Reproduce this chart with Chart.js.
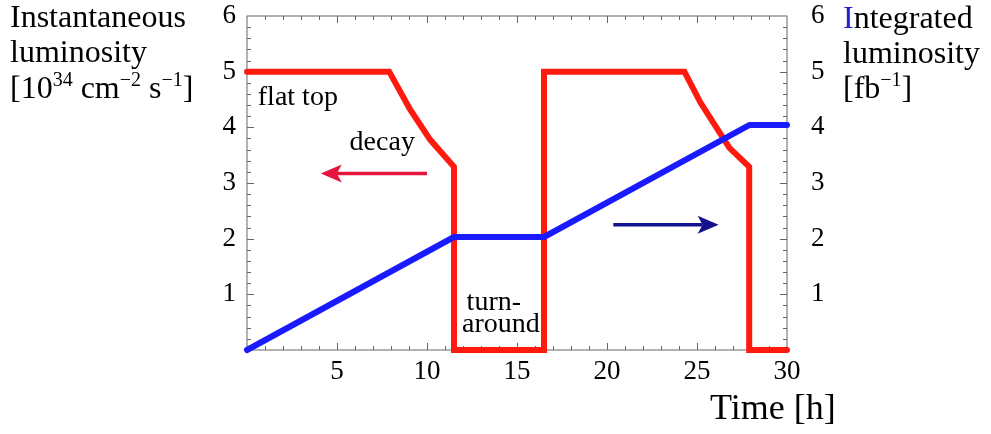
<!DOCTYPE html>
<html>
<head>
<meta charset="utf-8">
<script src="https://cdn.jsdelivr.net/npm/chart.js@4"></script>
<style>
  html, body { margin: 0; padding: 0; background: #fff; }
  #wrap { width: 991px; height: 434px; }
</style>
</head>
<body>
<div id="wrap"><canvas id="lumiChart" width="991" height="434"></canvas></div>
<script>
// Data (time in hours)
const redTimes = [0, 7.9, 9.06, 10.17, 11.5, 11.5, 16.5, 16.5, 24.3, 25.2, 26.8, 27.9, 27.9, 30];
const redValues = [5, 5, 4.32, 3.78, 3.29, 0, 0, 5, 5, 4.44, 3.63, 3.29, 0, 0];
const blueTimes = [0, 11.5, 16.5, 27.9, 30];
const blueValues = [0, 2.03, 2.03, 4.04, 4.04];

const xTickLabels = [5, 10, 15, 20, 25, 30];
const yTickLabels = [1, 2, 3, 4, 5, 6];

// annotations: [text, time, value]
const notes = [
    ['flat top', 0.6, 4.53],
    ['decay', 5.7, 3.72],
    ['turn-', 12.2, 0.85],
    ['around', 11.95, 0.45]
];
// arrows: [fromTime, toTime, value, colour]
const arrows = [
    [10.0, 4.1, 3.17, '#e5143c'],
    [20.35, 26.2, 2.25, '#12128c']
];

const serif = '"Liberation Serif", "DejaVu Serif", serif';

function toPoints(xs, ys) {
    return xs.map((x, i) => ({ x: x, y: ys[i] }));
}

function drawArrow(ctx, x1, x2, y, color) {
    const dir = x2 > x1 ? 1 : -1;
    const headLen = 21, half = 9, notch = 5;
    ctx.save();
    ctx.strokeStyle = color;
    ctx.fillStyle = color;
    ctx.lineWidth = 3.5;
    ctx.beginPath();
    ctx.moveTo(x1, y);
    ctx.lineTo(x2 - dir * (headLen - notch), y);
    ctx.stroke();
    ctx.beginPath();
    ctx.moveTo(x2, y);
    ctx.lineTo(x2 - dir * headLen, y - half);
    ctx.lineTo(x2 - dir * (headLen - notch), y);
    ctx.lineTo(x2 - dir * headLen, y + half);
    ctx.closePath();
    ctx.fill();
    ctx.restore();
}

// text with superscripts: parts = [[text, isSup, colour], ...]
function drawRich(ctx, parts, x, y, size) {
    let cx = x;
    parts.forEach(p => {
        const sup = p[1];
        ctx.font = (sup ? Math.round(size * 0.62) : size) + 'px ' + serif;
        ctx.fillStyle = p[2] || '#000';
        ctx.fillText(p[0], cx, sup ? y - size * 0.38 : y);
        cx += ctx.measureText(p[0]).width;
    });
}

const framePlugin = {
    id: 'frame',
    beforeDatasetsDraw(chart) {
        const { ctx, chartArea: a, scales } = chart;
        const xs = scales.x, ys = scales.y;
        ctx.save();
        ctx.strokeStyle = '#666';
        ctx.lineWidth = 1;
        ctx.strokeRect(a.left, a.top, a.right - a.left, a.bottom - a.top);
        ctx.beginPath();
        for (let t = 1; t < 30; t++) {
            const px = Math.round(xs.getPixelForValue(t)) + 0.5;
            const len = t % 5 === 0 ? 7 : 4;
            ctx.moveTo(px, a.bottom); ctx.lineTo(px, a.bottom - len);
            ctx.moveTo(px, a.top); ctx.lineTo(px, a.top + len);
        }
        for (let k = 1; k < 30; k++) {
            const v = k / 5;
            const py = Math.round(ys.getPixelForValue(v)) + 0.5;
            const len = k % 5 === 0 ? 7 : 4;
            ctx.moveTo(a.left, py); ctx.lineTo(a.left + len, py);
            ctx.moveTo(a.right, py); ctx.lineTo(a.right - len, py);
        }
        ctx.stroke();
        ctx.restore();
    },
    afterDraw(chart) {
        const { ctx, scales } = chart;
        const xs = scales.x, ys = scales.y;
        ctx.save();
        ctx.textBaseline = 'middle';
        ctx.textAlign = 'left';
        ctx.fillStyle = '#000';
        ctx.font = '28px ' + serif;
        notes.forEach(n => {
            ctx.fillText(n[0], xs.getPixelForValue(n[1]), ys.getPixelForValue(n[2]));
        });
        arrows.forEach(a => {
            drawArrow(ctx, xs.getPixelForValue(a[0]), xs.getPixelForValue(a[1]),
                ys.getPixelForValue(a[2]), a[3]);
        });

        // axis titles
        ctx.textBaseline = 'alphabetic';
        ctx.font = '36px ' + serif;
        ctx.fillText('Time [h]', 710, 419);

        ctx.font = '32px ' + serif;
        ctx.fillText('Instantaneous', 10, 27);
        ctx.fillText('luminosity', 10, 62);
        drawRich(ctx, [['[10', false], ['34', true], [' cm', false], ['\u22122', true],
            [' s', false], ['\u22121', true], [']', false]], 10, 98, 32);

        drawRich(ctx, [['I', false, '#2020d0'], ['ntegrated', false]], 843, 28, 32);
        ctx.font = '32px ' + serif;
        ctx.fillStyle = '#000';
        ctx.fillText('luminosity', 843, 63);
        drawRich(ctx, [['[fb', false], ['\u22121', true], [']', false]], 843, 98, 32);
        ctx.restore();
    }
};

const tickFont = { family: serif, size: 27 };
const hideZero = v => (v === 0 ? '' : v);

function fixVertical(width) {
    return s => {
        s.width = width;
        s.paddingTop = 0;
        s.paddingBottom = 0;
    };
}

new Chart(document.getElementById('lumiChart'), {
    type: 'line',
    data: {
        datasets: [
            {
                label: 'Integrated luminosity',
                data: toPoints(blueTimes, blueValues),
                borderColor: '#1a1aff',
                borderWidth: 6,
                pointRadius: 0,
                tension: 0,
                borderCapStyle: 'round',
                borderJoinStyle: 'round',
                yAxisID: 'y2',
                clip: false,
                order: 0
            },
            {
                label: 'Instantaneous luminosity',
                data: toPoints(redTimes, redValues),
                borderColor: '#ff1a10',
                borderWidth: 6,
                pointRadius: 0,
                tension: 0,
                borderCapStyle: 'round',
                borderJoinStyle: 'miter',
                yAxisID: 'y',
                clip: false,
                order: 1
            }
        ]
    },
    options: {
        responsive: false,
        animation: false,
        layout: { padding: { top: 16, left: 0, right: 0, bottom: 0 } },
        plugins: {
            legend: { display: false },
            tooltip: { enabled: false }
        },
        scales: {
            x: {
                type: 'linear',
                position: 'bottom',
                min: 0,
                max: 30,
                afterBuildTicks: s => { s.ticks = [0].concat(xTickLabels).map(v => ({ value: v })); },
                ticks: { font: tickFont, color: '#000', padding: 6, callback: hideZero, maxRotation: 0 },
                grid: { display: false, drawTicks: false },
                border: { display: false },
                afterFit: s => { s.height = 84; s.paddingLeft = 0; s.paddingRight = 0; }
            },
            y: {
                position: 'left',
                min: 0,
                max: 6,
                afterBuildTicks: s => { s.ticks = [0].concat(yTickLabels).map(v => ({ value: v })); },
                ticks: { font: tickFont, color: '#000', padding: 11, callback: hideZero },
                grid: { display: false, drawTicks: false },
                border: { display: false },
                afterFit: fixVertical(247)
            },
            y2: {
                position: 'right',
                min: 0,
                max: 6,
                afterBuildTicks: s => { s.ticks = [0].concat(yTickLabels).map(v => ({ value: v })); },
                ticks: { font: tickFont, color: '#000', padding: 24, callback: hideZero },
                grid: { display: false, drawTicks: false },
                border: { display: false },
                afterFit: fixVertical(204)
            }
        }
    },
    plugins: [framePlugin]
});
</script>
</body>
</html>
